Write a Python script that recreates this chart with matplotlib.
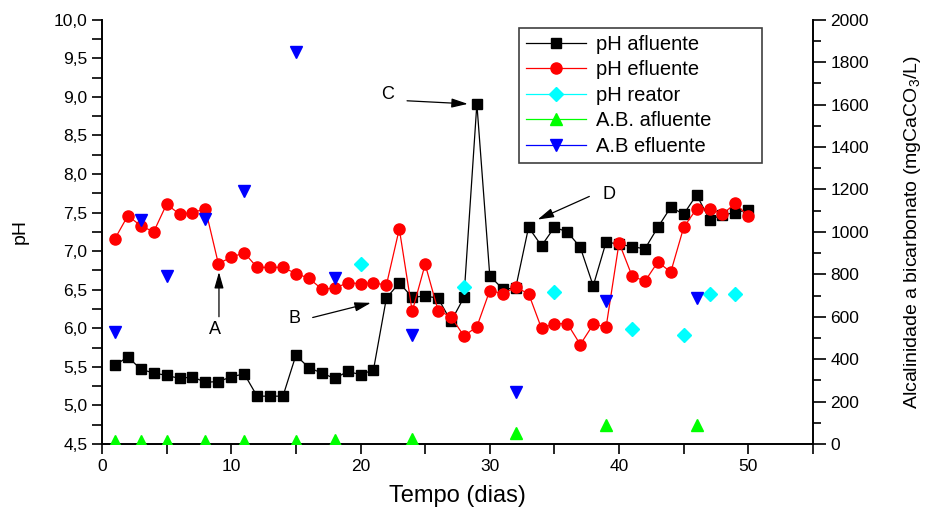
import numpy as np
from matplotlib import pyplot as plt
from matplotlib.lines import Line2D
from matplotlib.ticker import MultipleLocator, FuncFormatter

plt.rcParams['font.family'] = ['Liberation Sans', 'DejaVu Sans']
plt.rcParams['mathtext.default'] = 'regular'

dias = np.arange(1, 51)
ph_afluente = [5.52, 5.63, 5.47, 5.42, 5.39, 5.35, 5.37, 5.30, 5.31, 5.37,
               5.41, 5.12, 5.12, 5.12, 5.65, 5.49, 5.42, 5.35, 5.44, 5.40,
               5.46, 6.39, 6.59, 6.40, 6.42, 6.39, 6.09, 6.40, 8.91, 6.68,
               6.51, 6.52, 7.31, 7.07, 7.31, 7.25, 7.05, 6.55, 7.12, 7.09,
               7.06, 7.03, 7.31, 7.57, 7.48, 7.73, 7.41, 7.47, 7.50, 7.54]
ph_efluente = [7.16, 7.46, 7.33, 7.25, 7.61, 7.48, 7.50, 7.55, 6.84, 6.92,
               6.98, 6.79, 6.79, 6.79, 6.71, 6.65, 6.51, 6.52, 6.59, 6.58,
               6.59, 6.56, 7.29, 6.22, 6.83, 6.23, 6.15, 5.90, 6.02, 6.49,
               6.45, 6.53, 6.45, 6.00, 6.06, 6.06, 5.79, 6.05, 6.02, 7.11,
               6.68, 6.61, 6.86, 6.73, 7.31, 7.55, 7.55, 7.48, 7.62, 7.45]

dias_reator = [20, 28, 35, 41, 45, 47, 49]
ph_reator = [6.84, 6.53, 6.47, 5.99, 5.91, 6.45, 6.45]

dias_ab = [1, 3, 5, 8, 11, 15, 18, 24, 32, 39, 46]
ab_afluente = [12, 12, 12, 12, 12, 12, 20, 24, 50, 90, 90]
ab_efluente = [530, 1057, 794, 1060, 1193, 1850, 783, 516, 247, 675, 689]

# annotations: (label, text pos, arrow tail, arrow head)
notas = [("A", (8.76, 5.98), (9.05, 6.15), (9.05, 6.73)),
         ("B", (14.9, 6.13), (16.3, 6.14), (20.8, 6.33)),
         ("C", (22.1, 9.03), (23.6, 8.95), (28.3, 8.91)),
         ("D", (39.25, 7.73), (37.7, 7.71), (33.7, 7.41))]


def virgula(v, pos):
    return ("%.1f" % v).replace(".", ",")


def main():
    fig = plt.figure(figsize=(9.27, 5.08), dpi=100)
    ax = fig.add_axes([0.110, 0.126, 0.767, 0.835])
    ax2 = ax.twinx()

    ax.plot(dias, ph_afluente, color="black", lw=0.9, marker="s", ms=7,
            mfc="black", mec="black")
    ax.plot(dias, ph_efluente, color="#ff0000", lw=0.9, marker="o", ms=8,
            mfc="#ff0000", mec="#ff0000")
    ax.plot(dias_reator, ph_reator, ls="none", marker="D", ms=7,
            color="#00ffff")

    ax2.plot(dias_ab, ab_afluente, ls="none", marker="^", ms=8, color="#00ff00")
    ax2.plot(dias_ab, ab_efluente, ls="none", marker="v", ms=8, color="#0000ff")

    for lab, txt, tail, head in notas:
        ax.text(txt[0], txt[1], lab, fontsize=13, ha="center", va="center")
        ax.annotate("", xy=head, xytext=tail,
                    arrowprops=dict(arrowstyle="-|>,head_length=0.7,head_width=0.2",
                                    color="black", lw=0.9, shrinkA=0, shrinkB=0,
                                    mutation_scale=14))

    ax.set_xlim(0, 55)
    ax.set_ylim(4.5, 10.0)
    ax2.set_ylim(0, 2000)

    ax.xaxis.set_major_locator(MultipleLocator(10))
    ax.xaxis.set_minor_locator(MultipleLocator(5))
    ax.yaxis.set_major_locator(MultipleLocator(0.5))
    ax.yaxis.set_minor_locator(MultipleLocator(0.25))
    ax.yaxis.set_major_formatter(FuncFormatter(virgula))
    ax2.yaxis.set_major_locator(MultipleLocator(200))
    ax2.yaxis.set_minor_locator(MultipleLocator(100))

    for s in ["top", "right"]:
        ax.spines[s].set_visible(False)
    for s in ["top", "left", "bottom"]:
        ax2.spines[s].set_visible(False)
    ax.spines["left"].set_linewidth(1.4)
    ax.spines["bottom"].set_linewidth(1.4)
    ax2.spines["right"].set_linewidth(1.4)

    ax.tick_params(axis="both", which="both", direction="out", length=7,
                   width=1.2, labelsize=12.5)
    ax2.tick_params(axis="y", which="major", direction="out", length=9,
                    width=1.2, labelsize=12.5)
    ax2.tick_params(axis="y", which="minor", direction="out", length=6, width=1.2)

    ax.set_xlabel("Tempo (dias)", fontsize=17, labelpad=8)
    ax.set_ylabel("pH", fontsize=14, labelpad=18)
    ax2.set_ylabel("Alcalinidade a bicarbonato (mgCaCO$_3$/L)", fontsize=14,
                   labelpad=24)

    handles = [
        Line2D([], [], color="black", lw=0.9, marker="s", ms=7),
        Line2D([], [], color="#ff0000", lw=0.9, marker="o", ms=8),
        Line2D([], [], color="#00ffff", lw=0.9, marker="D", ms=7),
        Line2D([], [], color="#00ff00", lw=0.9, marker="^", ms=8),
        Line2D([], [], color="#0000ff", lw=0.9, marker="v", ms=8),
    ]
    labels = ["pH afluente", "pH efluente", "pH reator", "A.B. afluente",
              "A.B efluente"]
    leg = ax2.legend(handles, labels, loc="upper left",
                     bbox_to_anchor=(0.586, 0.667, 0.342, 0.314), mode="expand",
                     fontsize=14.5, handlelength=3.0, labelspacing=0.32,
                     borderaxespad=0, fancybox=False, framealpha=1,
                     edgecolor="#404040", handletextpad=0.5, borderpad=0.35)
    leg.get_frame().set_linewidth(1.2)

    plt.savefig("out.png", dpi=100)


if __name__ == "__main__":
    main()
